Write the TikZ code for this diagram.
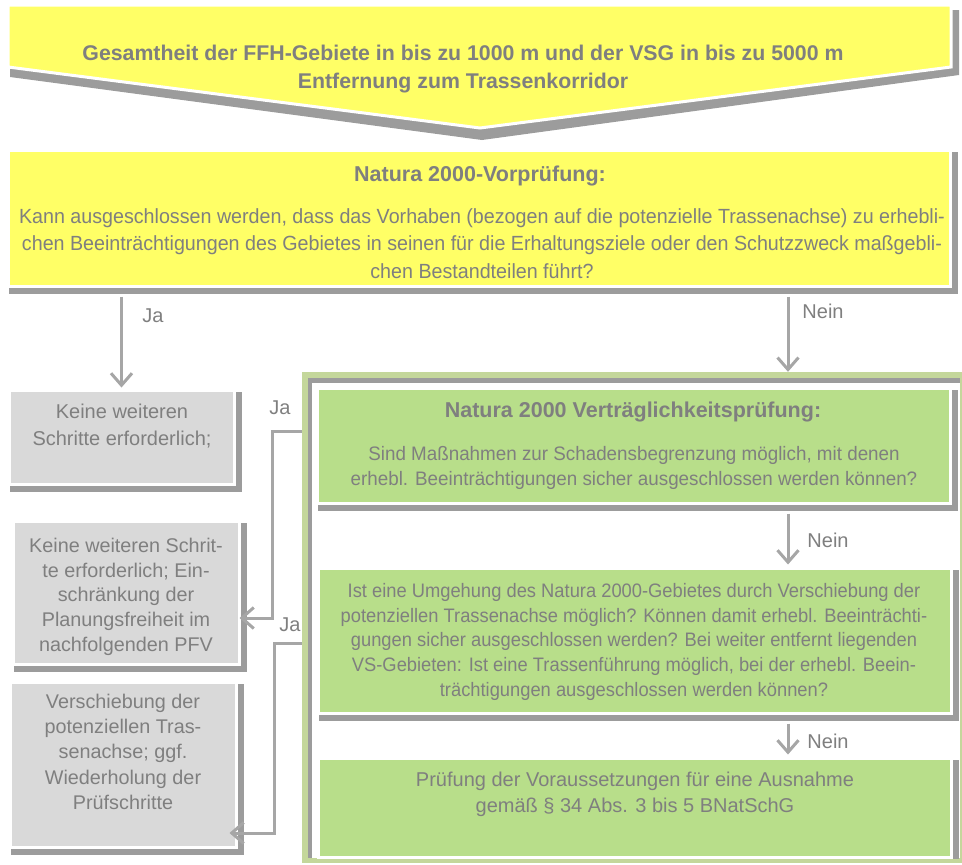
\documentclass[tikz,border=0pt]{standalone}
\usepackage{fontspec}
\setmainfont{Liberation Sans}
\newfontfamily\yelfont[FakeStretch=0.96]{Liberation Sans}
\newfontfamily\verfont[FakeStretch=0.965]{Liberation Sans}
\newfontfamily\umgfont[FakeStretch=0.94]{Liberation Sans}
\usetikzlibrary{arrows.meta}

\definecolor{yel}{HTML}{FFFF66}
\definecolor{grn}{HTML}{B8DE8A}
\definecolor{lgrn}{HTML}{C4D79B}
\definecolor{gry}{HTML}{D9D9D9}
\definecolor{shad}{HTML}{9C9C9C}
\definecolor{txtc}{HTML}{7F7F7F}
\definecolor{arrc}{HTML}{A6A6A6}

% box with a drop shadow: name, x0, y0, x1, y1, fill colour
\newcommand\flowbox[6]{%
  \fill[shad] (#2+1,#3+2) rectangle (#4+8,#5+8);
  \node[panel, fill=#6, minimum width={#4-#2}, minimum height={#5-#3}]
    (#1) at ({(#2+#4)/2},{(#3+#5)/2}) {};
}

\begin{document}
\begin{tikzpicture}[x=1pt,y=-1pt,
  panel/.style={draw=white, line width=3pt, inner sep=0pt},
  txt/.style={text=txtc, align=center, inner sep=0pt, anchor=north},
  lbl/.style={text=txtc, inner sep=0pt, font=\fontsize{20}{24}\selectfont},
  arr/.style={draw=arrc, line width=3pt,
    -{Straight Barb[length=12pt,width=21pt]}}]
\useasboundingbox (0,0) rectangle (962,865);

% heading banner (pentagon arrow)
\fill[shad] (10,10) -- (959,10) -- (959,75) -- (482,140) -- (10,77) -- cycle;
\path[fill=yel, draw=white, line width=3pt]
  (8,5) -- (951,5) -- (951,67) -- (480,128) -- (8,67) -- cycle;
\node[txt, font=\bfseries\fontsize{21.3}{28}\selectfont] (t0) at (463,45)
  {Gesamtheit der FFH-Gebiete in bis zu 1000 m und der VSG in bis zu 5000 m\\
   Entfernung zum Trassenkorridor};

% preliminary check
\flowbox{y2}{8}{150}{950}{286}{yel}
\node[txt, font=\bfseries\fontsize{21.5}{27}\selectfont] (y2a) at (480,166)
  {Natura 2000-Vorprüfung:};
\node[txt, font=\yelfont\fontsize{20.5}{27.5}\selectfont] (y2b) at (482,208)
  {Kann ausgeschlossen werden, dass das Vorhaben (bezogen auf die potenzielle Trassenachse) zu erhebli-\\
   chen Beeinträchtigungen des Gebietes in seinen für die Erhaltungsziele oder den Schutzzweck maßgebli-\\
   chen Bestandteilen führt?};

% outcome boxes on the left
\flowbox{k1}{9}{390}{234}{484}{gry}
\node[txt, font=\fontsize{20}{26.5}\selectfont] (k1t) at (122,404)
  {Keine weiteren\\ Schritte erforderlich;};
\flowbox{k2}{13}{521}{239}{664}{gry}
\node[txt, font=\fontsize{19.8}{24.7}\selectfont] (k2t) at (126,538)
  {Keine weiteren Schrit-\\ te erforderlich; Ein-\\ schränkung der\\ Planungsfreiheit im\\ nachfolgenden PFV};
\flowbox{k3}{10}{682}{236}{847}{gry}
\node[txt, font=\fontsize{19.8}{25.2}\selectfont] (k3t) at (123,694)
  {Verschiebung der\\ potenziellen Tras-\\ senachse; ggf.\\ Wiederholung der\\ Prüfschritte};

% frame of the appropriate assessment
\node[fill=lgrn, inner sep=0pt, minimum width=661, minimum height=491]
  (frame) at (632.5,617.5) {};
\fill[white] (308,378) rectangle (960,858);
\fill[shad] (308,378) rectangle (960,383);
\fill[shad] (308,378) rectangle (312,858);

\begin{scope}
\clip (308,378) rectangle (960,858);
\flowbox{g1}{317}{388}{950}{503}{grn}
\flowbox{g2}{318}{568}{951}{713}{grn}
\flowbox{g3}{318}{758}{951}{857}{grn}
\end{scope}
\node[txt, font=\bfseries\fontsize{21.5}{25}\selectfont] (g1a) at (633,401.5)
  {Natura 2000 Verträglichkeitsprüfung:};
\node[txt, font=\verfont\fontsize{19.5}{25}\selectfont] (g1b) at (634,446)
  {Sind Maßnahmen zur Schadensbegrenzung möglich, mit denen\\
   erhebl. Beeinträchtigungen sicher ausgeschlossen werden können?};
\node[txt, font=\umgfont\fontsize{19.5}{24.8}\selectfont] (g2t) at (634,583)
  {Ist eine Umgehung des Natura 2000-Gebietes durch Verschiebung der\\
   potenziellen Trassenachse möglich? Können damit erhebl. Beeinträchti-\\
   gungen sicher ausgeschlossen werden? Bei weiter entfernt liegenden\\
   VS-Gebieten: Ist eine Trassenführung möglich, bei der erhebl. Beein-\\
   trächtigungen ausgeschlossen werden können?};
\node[txt, font=\fontsize{20}{26}\selectfont] (g3t) at (635,772)
  {Prüfung der Voraussetzungen für eine Ausnahme\\
   gemäß § 34 Abs. 3 bis 5 BNatSchG};

% connectors
\coordinate (nx) at (788,0);
\coordinate (ja1y) at (0,431);
\coordinate (ja1c) at (272,618);
\coordinate (ja2y) at (0,643);
\coordinate (ja2c) at (274,833);

\draw[arr, shorten <=9pt, shorten >=1pt] (y2.south -| k1.north) -- (k1.north);
\draw[arr, shorten <=9pt] (y2.south -| nx) -- (frame.north -| nx);
\draw[arr, shorten <=9pt, shorten >=2pt] (g1.south -| nx) -- (g2.north -| nx);
\draw[arr, shorten <=9pt, shorten >=2pt] (g2.south -| nx) -- (g3.north -| nx);
\draw[arr, shorten >=-1pt] (frame.west |- ja1y) -| (ja1c) -- (k2.east |- ja1c);
\draw[arr, shorten >=-8pt] (frame.west |- ja2y) -| (ja2c) -- (k3.east |- ja2c);

\node[lbl] (lja0) at (153,316) {Ja};
\node[lbl] (lne0) at (823,311) {Nein};
\node[lbl] (lja1) at (280,408) {Ja};
\node[lbl] (lja2) at (290,625) {Ja};
\node[lbl] (lne1) at (828,540) {Nein};
\node[lbl] (lne2) at (828,741) {Nein};
\end{tikzpicture}
\end{document}
